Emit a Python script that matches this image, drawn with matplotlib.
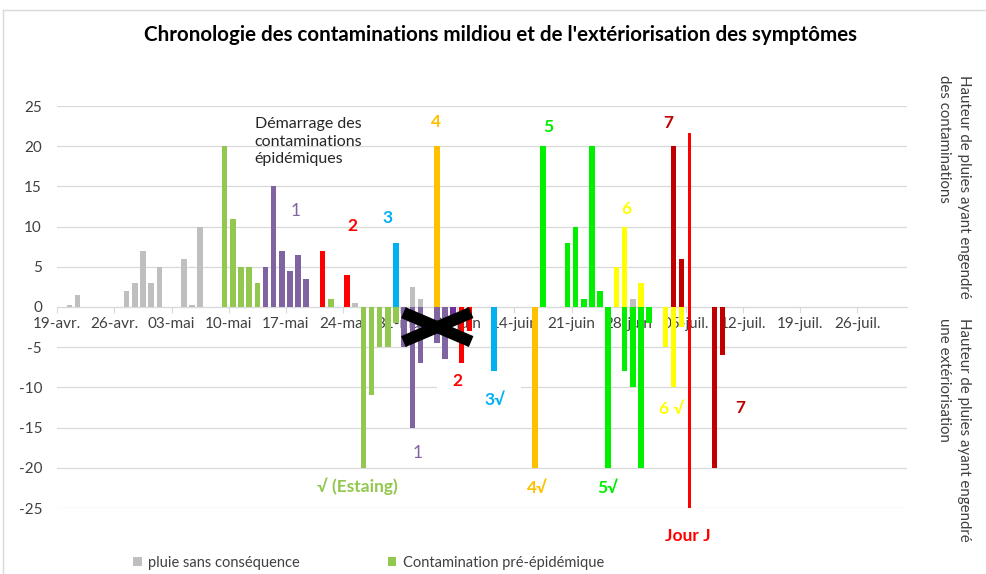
import matplotlib
matplotlib.use("Agg")
import matplotlib.pyplot as plt
import matplotlib.dates as mdates
from matplotlib.lines import Line2D
import pandas as pd

plt.rcParams['font.family'] = ['Lato', 'DejaVu Sans']

YEAR = "2019"
start_date = "2019-04-19"
end_offset_days = 104.1

# ---------------- data ----------------
gris_dates = ["04-20", "04-21", "04-27", "04-28", "04-29", "04-30", "05-01", "05-04",
              "05-05", "05-06", "05-25", "06-01", "06-02", "06-28"]
gris_vals = [0.2, 1.5, 2, 3, 7, 3, 5, 6, 0.2, 10, 0.5, 2.5, 1, 1]

pre_dates = ["05-09", "05-10", "05-11", "05-12", "05-13", "05-22"]
pre_vals = [20, 11, 5, 5, 3, 1]
pre_ext_dates = ["05-26", "05-27", "05-28", "05-29", "05-30"]
pre_ext_vals = [-20, -11, -5, -5, -2]

c1_dates = ["05-14", "05-15", "05-16", "05-17", "05-18", "05-19"]
c1_vals = [5, 15, 7, 4.5, 6.5, 3.5]
c1_ext_dates = ["05-31", "06-01", "06-02", "06-04", "06-05"]
c1_ext_vals = [-5, -15, -7, -4.5, -6.5]
c1b_ext_dates = ["06-06"]
c1b_ext_vals = [-2]

c2_dates = ["05-21", "05-24"]
c2_vals = [7, 4]
c2_ext_dates = ["06-07", "06-08"]
c2_ext_vals = [-7, -3]

c3_dates = ["05-30"]
c3_vals = [8]
c3_ext_dates = ["06-11"]
c3_ext_vals = [-8]

c4_dates = ["06-04"]
c4_vals = [20]
c4_ext_dates = ["06-16"]
c4_ext_vals = [-20]

c5_dates = ["06-17", "06-20", "06-21", "06-22", "06-23", "06-24"]
c5_vals = [20, 8, 10, 1, 20, 2]
c5_ext_dates = ["06-25", "06-27", "06-28", "06-29", "06-30"]
c5_ext_vals = [-20, -8, -10, -20, -2]

c6_dates = ["06-26", "06-27", "06-29"]
c6_vals = [5, 10, 3]
c6_ext_dates = ["07-02", "07-03", "07-04"]
c6_ext_vals = [-5, -10, -2.5]

c7_dates = ["07-03", "07-04"]
c7_vals = [20, 6]
c7_ext_dates = ["07-08", "07-09"]
c7_ext_vals = [-20, -6]

jour_j_date = "07-05"
jour_j_top = 21.6
jour_j_bottom = -25

tick_labels = ["19-avr.", "26-avr.", "03-mai", "10-mai", "17-mai", "24-mai", "31-mai",
               "07-juin", "14-juin", "21-juin", "28-juin", "05-juil.", "12-juil.",
               "19-juil.", "26-juil."]
yticks = [25, 20, 15, 10, 5, 0, -5, -10, -15, -20, -25]

legend_labels = ["pluie sans conséquence", "Contamination pré-épidémique"]

# ---------------- colours ----------------
C_GRIS = "#BFBFBF"
C_PRE = "#92C84F"
C_VIOLET = "#8064A2"
C_VIOLET2 = "#7030A0"
C_ROUGE = "#FF0000"
C_BLEU = "#00B0F0"
C_ORANGE = "#FFC000"
C_VERT = "#00F000"
C_JAUNE = "#FFFF00"
C_BORDEAUX = "#C00000"
TXT = "#404040"

def to_x(dates):
    d = pd.to_datetime([f"{YEAR}-{s}" for s in dates]) + pd.Timedelta(hours=12)
    return mdates.date2num(d.to_pydatetime())

fig = plt.figure(figsize=(9.87, 5.74), dpi=100)
ax = fig.add_axes([57.3 / 987, 1 - 508 / 574, (907 - 57.3) / 987, (508 - 106) / 574])

BW = 0.68
series = [
    (gris_dates, gris_vals, C_GRIS),
    (pre_dates, pre_vals, C_PRE),
    (pre_ext_dates, pre_ext_vals, C_PRE),
    (c1_dates, c1_vals, C_VIOLET),
    (c1_ext_dates, c1_ext_vals, C_VIOLET),
    (c1b_ext_dates, c1b_ext_vals, C_VIOLET2),
    (c2_dates, c2_vals, C_ROUGE),
    (c2_ext_dates, c2_ext_vals, C_ROUGE),
    (c3_dates, c3_vals, C_BLEU),
    (c3_ext_dates, c3_ext_vals, C_BLEU),
    (c4_dates, c4_vals, C_ORANGE),
    (c4_ext_dates, c4_ext_vals, C_ORANGE),
    (c5_dates, c5_vals, C_VERT),
    (c5_ext_dates, c5_ext_vals, C_VERT),
    (c6_dates, c6_vals, C_JAUNE),
    (c6_ext_dates, c6_ext_vals, C_JAUNE),
    (c7_dates, c7_vals, C_BORDEAUX),
    (c7_ext_dates, c7_ext_vals, C_BORDEAUX),
]
handles = {}
for dts, vals, col in series:
    b = ax.bar(to_x(dts), vals, width=BW, color=col, zorder=3, linewidth=0)
    handles.setdefault(col, b)

jx = to_x([jour_j_date])
ax.bar(jx, [jour_j_top - jour_j_bottom], bottom=jour_j_bottom, width=0.36,
       color=C_ROUGE, zorder=4, linewidth=0)

# axes
x0 = mdates.date2num(pd.Timestamp(start_date).to_pydatetime())
ax.set_xlim(x0, x0 + end_offset_days)
ax.set_ylim(-25, 25)
ax.set_xticks([x0 + 7 * i for i in range(len(tick_labels))])
ax.set_xticklabels(tick_labels)
ax.set_yticks(yticks)
ax.set_yticklabels([str(v) for v in yticks])
ax.grid(axis='y', color="#D9D9D9", linewidth=0.9, zorder=0)
ax.set_axisbelow(True)
for s in ['top', 'right', 'left']:
    ax.spines[s].set_visible(False)
ax.spines['bottom'].set_position(('data', 0))
ax.spines['bottom'].set_color("#D9D9D9")
ax.spines['bottom'].set_zorder(2)
ax.tick_params(axis='x', length=4, color="#D9D9D9", labelsize=11, labelcolor=TXT, pad=3)
ax.tick_params(axis='y', length=0, labelsize=11, labelcolor=TXT, pad=11)

# annotations
ax.text(x0 + 24.2, 23.6, "Démarrage des\ncontaminations\népidémiques", fontsize=11.5,
        color="#262626", ha='left', va='top', linespacing=1.3, zorder=5)

labels = [
    ("1", 29.2, 11.9, C_VIOLET, 'normal'),
    ("2", 36.1, 10.1, C_ROUGE, 'bold'),
    ("3", 40.4, 11.1, C_BLEU, 'bold'),
    ("4", 46.4, 23.0, C_ORANGE, 'bold'),
    ("5", 60.1, 22.4, C_VERT, 'bold'),
    ("6", 69.7, 12.2, C_JAUNE, 'bold'),
    ("7", 74.8, 22.9, C_BORDEAUX, 'bold'),
    ("√ (Estaing)", 36.8, -22.3, C_PRE, 'bold'),
    ("1", 44.1, -18.2, C_VIOLET, 'normal'),
    ("4√", 58.8, -22.5, C_ORANGE, 'bold'),
    ("5√", 67.4, -22.5, C_VERT, 'bold'),
    ("6 √", 75.2, -12.7, C_JAUNE, 'bold'),
    ("7", 83.7, -12.6, C_BORDEAUX, 'bold'),
    ("Jour J", 77.2, -28.5, C_ROUGE, 'bold'),
]
for t, dx, y, col, w in labels:
    ax.text(x0 + dx, y, t, color=col, fontsize=12.5, fontweight=w, ha='center',
            va='center', zorder=6, clip_on=False)
for t, dx, y, col in [("2", 49.0, -9.2, C_ROUGE), ("3√", 53.6, -11.6, C_BLEU)]:
    ax.text(x0 + dx, y, t, color=col, fontsize=12.5, fontweight='bold', ha='center',
            va='center', zorder=2.5,
            bbox=dict(boxstyle='square,pad=0.9', fc='white', ec='none'))

# the black cross
ax.plot([x0 + 42.4, x0 + 50.7], [-0.7, -4.3], color='black', lw=8.5, zorder=7,
        solid_capstyle='butt')
ax.plot([x0 + 42.4, x0 + 50.7], [-4.3, -0.7], color='black', lw=8.5, zorder=7,
        solid_capstyle='butt')

# title
fig.text(500 / 987, 1 - 35 / 574,
         "Chronologie des contaminations mildiou et de l'extériorisation des symptômes",
         ha='center', va='center', fontsize=14.8, fontweight='bold', color='black')

# right-side rotated labels
fig.text(954 / 987, 1 - 75 / 574, "Hauteur de pluies ayant engendré\ndes contaminations",
         rotation=-90, rotation_mode='anchor', ha='left', va='center',
         multialignment='left', fontsize=10.8, color=TXT, linespacing=1.5)
fig.text(954 / 987, 1 - 318 / 574, "Hauteur de pluies ayant engendré\nune extériorisation",
         rotation=-90, rotation_mode='anchor', ha='left', va='center',
         multialignment='left', fontsize=10.8, color=TXT, linespacing=1.5)

# frame lines
fig.add_artist(Line2D([3 / 987, 1], [1 - 10 / 574, 1 - 10 / 574], color="#D9D9D9", lw=1))
fig.add_artist(Line2D([3 / 987, 3 / 987], [0, 1 - 10 / 574], color="#D9D9D9", lw=1))

# legend
fig.legend([handles[C_GRIS], handles[C_PRE]], legend_labels, loc='center left',
           bbox_to_anchor=(133 / 987, 1 - 563 / 574), ncol=2, frameon=False,
           handlelength=0.6, handleheight=0.6, handletextpad=0.45, columnspacing=6.0,
           fontsize=10.5, labelcolor=TXT, borderaxespad=0, borderpad=0)

fig.savefig("out.png", dpi=100)
